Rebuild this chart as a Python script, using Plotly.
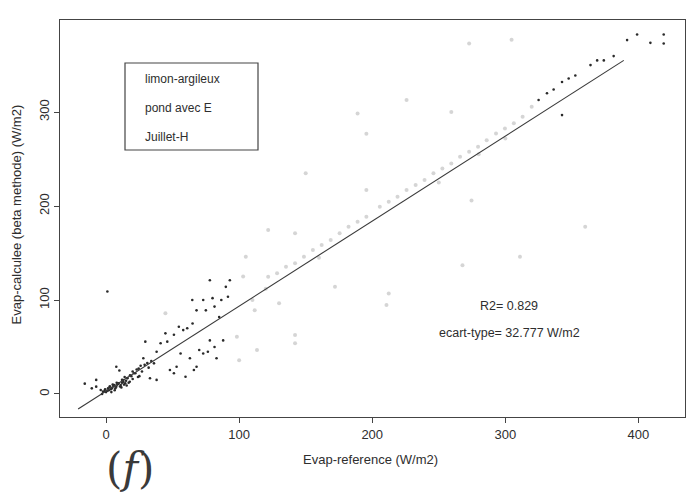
import plotly.graph_objects as go

# --- data -----------------------------------------------------------------
# dark points: evaporation reference vs beta-method (W/m2)
ref_dark = [-10.7, -7.4, -4, -2.3, -0.7, 1, 2.7, 4.4, 6, 7.7, 9.4, 11, 12.8, 14.4, 16, 17.8,
            7.7, 10, 21, 24.5, 28, 29.5, 36, 38, 33, 41, 46, 44.6, 48, 51, 53, 54.7, 58,
            59.7, 63, 64.8, 68, 68, 70, 73, 75, 76.5, 78, 80, 81.5, 83, 85, 86.6, 88, 90,
            91.6, 93, 81.5, 78, 73, 66, 61, 56, 1, -7.4, -16, 38, 51, 65, 3, 5, 8, 12, 14,
            18, 20, 23, 26, 31, -3, 0, 2, 6, 9, 13, 16, 19, 22,
            -1, 1.5, 3.5, 5.5, 7, 8.5, 10.5, 12, 13.5, 15, 17, 4, 6.5, 11.5, 15.5, 25, 27,
            29, 32, 34, 20, 24,
            391.5, 399, 409, 419, 419, 381.4, 374, 369, 364, 352.6, 347.6, 342.6, 336.3,
            331.3, 325, 342.6]
calc_dark = [6, 7.8, 4.3, 2.5, 5, 3.5, 7.8, 6, 9.6, 7.8, 11.3, 9.6, 14.9, 11.3, 16.7, 13,
             29, 25, 22, 27, 38, 55.7, 32.6, 15, 16.7, 54, 55.7, 64.5, 25.5, 22, 29, 71.6, 68,
             18.4, 38, 100, 89, 29, 46.8, 100, 89, 45, 121, 102, 93, 38, 82, 100, 57, 114,
             103.5, 121, 50, 57, 43, 25.5, 70, 43, 109, 15, 11, 45, 63, 75, 8, 10, 12, 15, 18,
             20, 24, 26, 30, 33, 0, 2, 4, 9, 11, 13, 17, 19, 22,
             3, 6, 5, 8, 6, 10, 8, 12, 10, 14, 12, 2, 4, 7, 9, 19, 24, 31, 28, 35, 16, 18,
             376.6, 382.6, 373.7, 382.6, 373, 359.6, 355, 355, 350, 339, 335.8, 332, 324,
             320, 312.8, 296.8]

# light points
ref_gray = [121.8, 128.5, 135.2, 142, 148.7, 155.4, 162, 168.8, 175.5, 182.2, 189, 195.6,
            205.7, 212.4, 219, 225.8, 232.6, 239.3, 246, 252.7, 259.4, 266, 272.8, 279.5,
            286, 293, 299.7, 306.4, 313, 319.8,
            195.6, 225.8, 259.4, 272.8, 304.7, 274.6, 195.6, 150, 360, 311, 267.8, 212.4,
            210.7, 172, 121.8, 142, 105, 130, 142, 142, 113.4, 98.3, 100, 103, 110, 111.7,
            44.6, 189, 120, 160, 250, 280, 300]
calc_gray = [124.8, 128.4, 135.5, 139, 146, 153.2, 158.5, 163.8, 171, 178, 183.3, 188.7,
             199.3, 204.6, 210, 217, 222.3, 227.7, 234.8, 240, 245.4, 252.5, 257.8, 263,
             270, 277.3, 282.6, 288, 295, 305.7,
             277, 312.8, 300, 373, 377, 206, 217, 234.8, 178, 146, 137, 107,
             94.7, 114, 174.5, 171, 146, 96.5, 62.8, 54, 46.8, 61, 36, 125, 100, 89,
             85.8, 298.6, 112, 145, 225, 255, 272]

# fitted line end points
fit_x = [-21, 389]
fit_y = [-16, 355]

x_ticks = [0, 100, 200, 300, 400]
y_ticks = [0, 100, 200, 300]

legend_lines = ["limon-argileux", "pond avec E", "Juillet-H"]
stat_lines = ["R2= 0.829", "ecart-type= 32.777 W/m2"]

# --- figure ---------------------------------------------------------------
FONT = "Liberation Sans, Arial, sans-serif"
INK = "#2e2e2e"

fig = go.Figure()
fig.add_trace(go.Scatter(x=ref_gray, y=calc_gray, mode="markers",
                         marker=dict(size=4, color="rgba(150,150,150,0.4)"),
                         hoverinfo="skip"))
fig.add_trace(go.Scatter(x=ref_dark, y=calc_dark, mode="markers",
                         marker=dict(size=2.6, color="#2a2a2a"), hoverinfo="skip"))
fig.add_trace(go.Scatter(x=fit_x, y=fit_y, mode="lines",
                         line=dict(color="#3a3a3a", width=1.1), hoverinfo="skip"))

axis_common = dict(showgrid=False, zeroline=False, showline=True, mirror=True,
                   linecolor="#444444", linewidth=1.3, ticks="outside", ticklen=5,
                   tickcolor="#444444", tickfont=dict(family=FONT, size=13, color=INK))
fig.update_xaxes(range=[-34.6, 435], tickvals=x_ticks, **axis_common)
fig.update_yaxes(range=[-24.5, 398], tickvals=y_ticks, tickangle=-90, **axis_common)

ann = []
# legend box text
for i, txt in enumerate(legend_lines):
    ann.append(dict(xref="paper", yref="paper", x=0.1328, y=0.8514 - i * 0.0731,
                    text=txt, showarrow=False, xanchor="left", yanchor="middle",
                    font=dict(family=FONT, size=12, color=INK)))
# statistics
for i, txt in enumerate(stat_lines):
    ann.append(dict(xref="paper", yref="paper", x=0.719, y=0.2796 - i * 0.068,
                    text=txt, showarrow=False, xanchor="center", yanchor="middle",
                    font=dict(family=FONT, size=12.5, color=INK)))
# axis titles
ann.append(dict(xref="paper", yref="paper", x=0.496, y=-0.108,
                text="Evap-reference (W/m2)", showarrow=False,
                xanchor="center", yanchor="middle",
                font=dict(family=FONT, size=13, color=INK)))
ann.append(dict(xref="paper", yref="paper", x=-0.069, y=0.51,
                text="Evap-calculee (beta methode) (W/m2)", showarrow=False,
                textangle=-90, xanchor="center", yanchor="middle",
                font=dict(family=FONT, size=13, color=INK)))
# panel letter
ann.append(dict(xref="paper", yref="paper", x=0.112, y=-0.13,
                text="(<i>f</i>)", showarrow=False, xanchor="center", yanchor="middle",
                font=dict(family="DejaVu Serif, serif", size=42, color="#3a3a3a")))

fig.update_layout(
    width=699, height=495,
    margin=dict(l=60, r=14, t=20, b=78),
    paper_bgcolor="white", plot_bgcolor="white",
    showlegend=False,
    annotations=ann,
    shapes=[dict(type="rect", xref="paper", yref="paper",
                 x0=0.104, x1=0.3168, y0=0.6725, y1=0.8917,
                 line=dict(color="#444444", width=1.2))],
)

fig.write_html("out.html")
